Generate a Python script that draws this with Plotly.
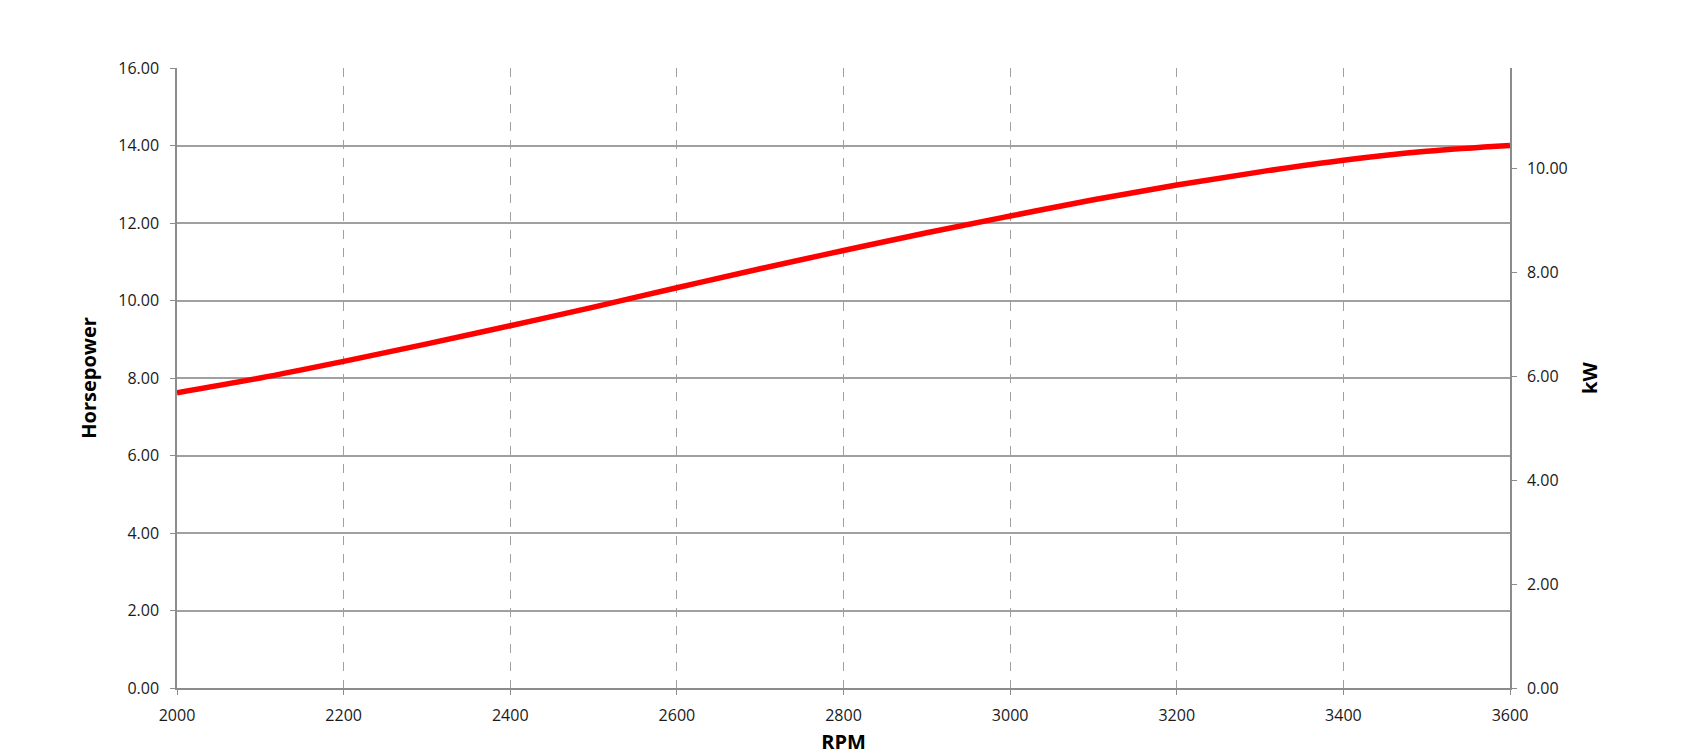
import plotly.graph_objects as go

# engine speed (RPM) and power
rpm = [2000, 2100, 2200, 2300, 2400, 2500, 2600, 2700, 2800,
       2900, 3000, 3100, 3200, 3300, 3400, 3500, 3600]
horsepower = [7.62, 8.00, 8.43, 8.88, 9.35, 9.83, 10.33, 10.82, 11.29,
              11.75, 12.18, 12.60, 12.98, 13.32, 13.62, 13.85, 14.00]

HP_TO_KW = 0.7457
kilowatts = [hp * HP_TO_KW for hp in horsepower]

hp_ticks = [0, 2, 4, 6, 8, 10, 12, 14, 16]
kw_ticks = [0, 2, 4, 6, 8, 10]
rpm_ticks = [2000, 2200, 2400, 2600, 2800, 3000, 3200, 3400, 3600]

FONT = "Open Sans"
AXIS_GREY = "#8c8c8c"
GRID_GREY = "#a0a0a0"

fig = go.Figure()

fig.add_trace(go.Scatter(
    x=rpm,
    y=horsepower,
    mode="lines",
    line=dict(color="#ff0000", width=5.5, shape="spline"),
    name="Horsepower",
    showlegend=False
))

# same curve in kW on the secondary axis, kept invisible
fig.add_trace(go.Scatter(
    x=rpm,
    y=kilowatts,
    mode="lines",
    line=dict(color="rgba(0,0,0,0)", width=0),
    yaxis="y2",
    hoverinfo="skip",
    showlegend=False
))

fig.update_layout(
    width=1683,
    height=755,
    plot_bgcolor="white",
    paper_bgcolor="white",
    margin=dict(l=169, r=181, t=60, b=75),
    font=dict(family=FONT, size=16, color="#1a1a1a"),
    xaxis=dict(
        range=[2000, 3600],
        tickvals=rpm_ticks,
        ticktext=[str(v) for v in rpm_ticks],
        showgrid=True,
        gridcolor=GRID_GREY,
        griddash="dash",
        gridwidth=1,
        showline=True,
        linecolor=AXIS_GREY,
        linewidth=1.5,
        ticks="outside",
        ticklen=5,
        tickcolor=AXIS_GREY,
        ticklabelstandoff=7,
        zeroline=False,
        title=dict(text="<b>RPM</b>", font=dict(size=20, color="#000000"), standoff=10),
    ),
    yaxis=dict(
        range=[0, 16],
        tickvals=hp_ticks,
        ticktext=["%.2f" % v for v in hp_ticks],
        showgrid=True,
        gridcolor=GRID_GREY,
        gridwidth=1.5,
        showline=True,
        linecolor=AXIS_GREY,
        linewidth=1.5,
        ticks="outside",
        ticklen=5,
        tickcolor=AXIS_GREY,
        ticklabelstandoff=8,
        zeroline=False,
        title=dict(text="<b>Horsepower</b>", font=dict(size=20, color="#000000"), standoff=16),
    ),
    yaxis2=dict(
        range=[0, 16 * HP_TO_KW],
        overlaying="y",
        side="right",
        tickvals=kw_ticks,
        ticktext=["%.2f" % v for v in kw_ticks],
        showgrid=False,
        showline=True,
        linecolor=AXIS_GREY,
        linewidth=1.5,
        ticks="outside",
        ticklen=5,
        tickcolor=AXIS_GREY,
        ticklabelstandoff=7,
        zeroline=False,
        title=dict(text="<b>kW</b>", font=dict(size=20, color="#000000"), standoff=16),
    ),
)

fig.write_html("out.html")
